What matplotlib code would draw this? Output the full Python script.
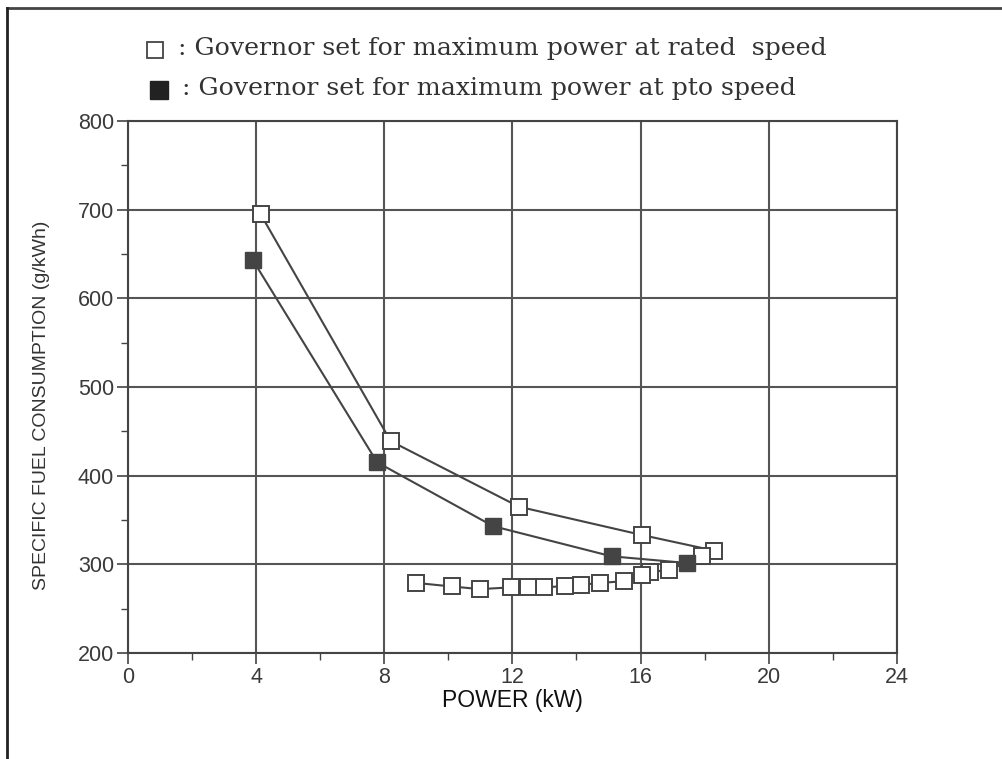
import numpy as np
import matplotlib.pyplot as plt
from matplotlib.lines import Line2D
from matplotlib.ticker import MultipleLocator

plt.rcParams['font.family'] = ['Liberation Sans', 'DejaVu Sans']

# governor set for maximum power at rated speed (open squares)
rated_kw = [4.14, 8.2, 12.2, 16.05, 18.29, 17.93,
            16.9, 16.3, 16.05, 15.5, 14.75, 14.15, 13.65, 13.0, 12.5, 11.95, 11.0, 10.1, 9.0]
rated_sfc = [695, 439, 365, 333, 315.5, 309,
             294, 291, 288.5, 281, 279, 277, 275.5, 274, 274, 274, 272, 275, 279]

# governor set for maximum power at pto speed (filled squares)
pto_kw = [3.9, 7.78, 11.4, 15.1, 17.44]
pto_sfc = [643, 415, 343, 309, 301.5]

x_ticks = [0, 4, 8, 12, 16, 20, 24]
y_ticks = [200, 300, 400, 500, 600, 700, 800]

ink = '#444444'

fig = plt.figure(figsize=(10.02, 7.59), dpi=100)
ax = fig.add_axes([0.1277, 0.1397, 0.7673, 0.7009])

ax.plot(rated_kw, rated_sfc, '-', color=ink, lw=1.5, marker='s', ms=11,
        mfc='white', mec=ink, mew=1.4, zorder=3)
ax.plot(pto_kw, pto_sfc, '-', color=ink, lw=1.5, marker='s', ms=11,
        mfc=ink, mec=ink, zorder=4)

ax.set_xlim(0, 24)
ax.set_ylim(200, 800)
ax.set_xticks(x_ticks)
ax.set_yticks(y_ticks)
ax.xaxis.set_minor_locator(MultipleLocator(2))
ax.yaxis.set_minor_locator(MultipleLocator(50))
ax.grid(True, which='major', color='#555555', lw=1.5)
ax.tick_params(which='major', direction='out', length=8, width=1.2, color=ink,
               labelsize=15.5, labelcolor='#3a3a3a', pad=2)
ax.tick_params(which='minor', direction='out', length=5, width=1.0, color=ink)
for s in ax.spines.values():
    s.set_color(ink)
    s.set_linewidth(1.5)

ax.set_xlabel('POWER (kW)', fontsize=16.5, labelpad=1, color='#111111')
ax.set_ylabel('SPECIFIC FUEL CONSUMPTION (g/kWh)', fontsize=14, color='#333333')
ax.yaxis.set_label_coords(-0.102, 0.466)

# legend written as in the figure
fig.add_artist(Line2D([155 / 1002], [1 - 50 / 759], marker='s', ms=12, mfc='white',
                      mec=ink, mew=1.3, transform=fig.transFigure))
fig.add_artist(Line2D([159 / 1002], [1 - 90 / 759], marker='s', ms=13, mfc='#222222',
                      mec='#222222', transform=fig.transFigure))
fig.text(178 / 1002, 1 - 48 / 759, ': Governor set for maximum power at rated  speed',
         family='DejaVu Serif', fontsize=18.2, va='center', color='#333333')
fig.text(182 / 1002, 1 - 88 / 759, ': Governor set for maximum power at pto speed',
         family='DejaVu Serif', fontsize=18.2, va='center', color='#333333')

# outer frame (top and left only)
fig.add_artist(Line2D([7 / 1002, 1], [1 - 8 / 759, 1 - 8 / 759], color=ink, lw=2,
                      transform=fig.transFigure))
fig.add_artist(Line2D([7 / 1002, 7 / 1002], [0, 1 - 8 / 759], color='#222222', lw=2,
                      transform=fig.transFigure))

fig.savefig('out.png', dpi=100)
